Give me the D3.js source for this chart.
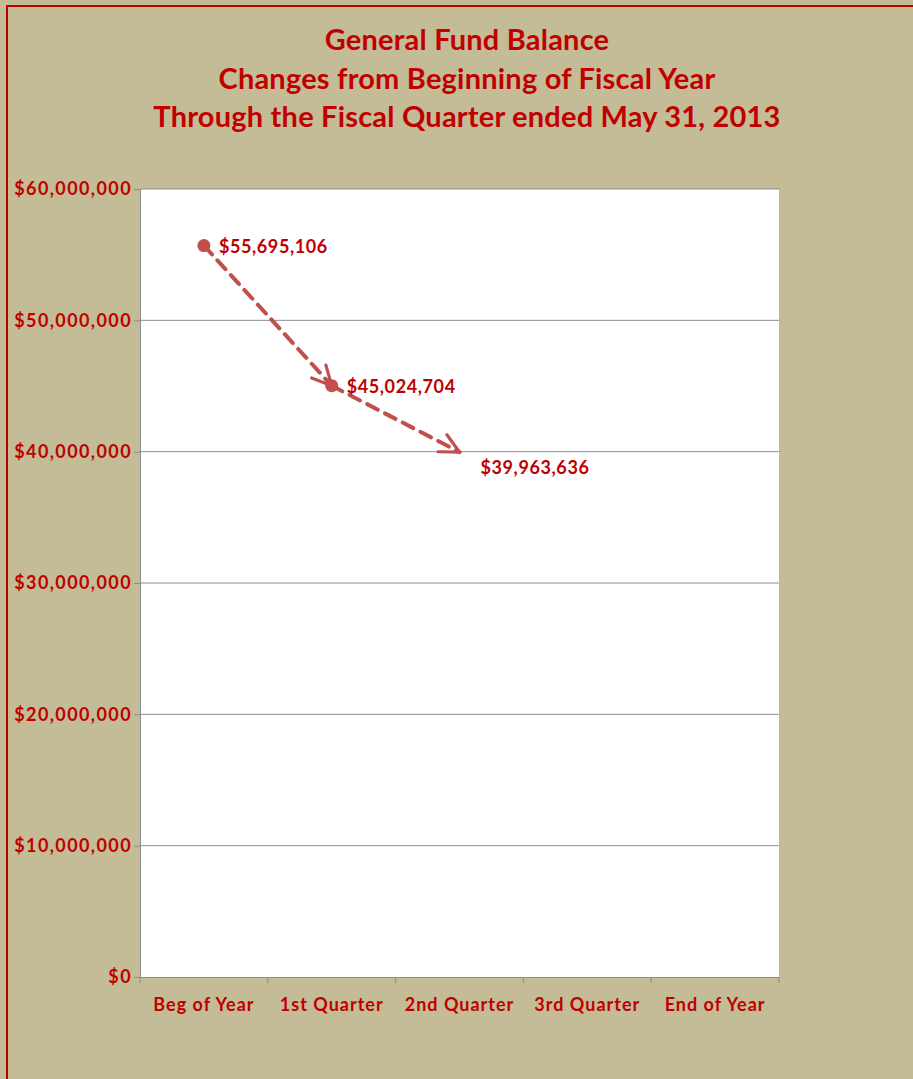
<!DOCTYPE html>
<html><head><meta charset="utf-8">
<script src="https://cdn.jsdelivr.net/npm/d3@7"></script>
<style>body{margin:0;background:#fff}svg{display:block}</style>
</head><body>
<script>
const categories = ["Beg of Year","1st Quarter","2nd Quarter","3rd Quarter","End of Year"];
const values = [55695106, 45024704, 39963636];
const yTicks = [0,10000000,20000000,30000000,40000000,50000000,60000000];
const titleLines = ["General Fund Balance","Changes from Beginning of Fiscal Year","Through the Fiscal Quarter ended May 31, 2013"];

const W=913,H=1079;
const red="#C00000", lineCol="#C0504D";
const font="Lato, 'Open Sans', sans-serif";
const svg=d3.select("body").append("svg").attr("width",W).attr("height",H);
svg.append("rect").attr("width",W).attr("height",H).attr("fill","#C4BC96");
svg.append("rect").attr("x",7).attr("y",6).attr("width",W+20).attr("height",H+20)
  .attr("fill","none").attr("stroke",red).attr("stroke-width",2);

const m={l:140,r:779,t:189,b:977};
const x=d3.scaleBand().domain(categories).range([m.l,m.r]);
const y=d3.scaleLinear().domain([0,60000000]).range([m.b,m.t]);

svg.append("rect").attr("x",m.l).attr("y",m.t).attr("width",m.r-m.l).attr("height",m.b-m.t).attr("fill","#fff");

// title
svg.append("g").selectAll("text").data(titleLines).join("text")
  .attr("x",467).attr("y",(d,i)=>50+i*38.5).attr("text-anchor","middle")
  .attr("font-family",font).attr("font-weight","bold").attr("font-size",29).attr("letter-spacing",0.2).attr("fill",red).text(d=>d);

// gridlines
svg.append("g").selectAll("line").data(yTicks.slice(1)).join("line")
  .attr("x1",m.l).attr("x2",m.r).attr("y1",d=>y(d)).attr("y2",d=>y(d))
  .attr("stroke","#8c8c8c").attr("stroke-width",1);

const fmt=d=>"$"+d3.format(",")(d);
// y axis
const ya=svg.append("g").attr("transform",`translate(${m.l},0)`)
  .call(d3.axisLeft(y).tickValues(yTicks).tickFormat(fmt).tickSize(6).tickPadding(2));
ya.select(".domain").attr("stroke","#8c8c8c");
ya.selectAll(".tick line").attr("stroke","#8c8c8c");
ya.selectAll("text").attr("font-family",font).attr("font-weight","bold").attr("font-size",18).attr("letter-spacing",1.4).attr("fill",red);

// x axis
const xa=svg.append("g").attr("transform",`translate(0,${m.b})`)
  .call(d3.axisBottom(x).tickSize(0).tickPadding(21));
xa.select(".domain").attr("stroke","#8c8c8c");
xa.selectAll("text").attr("font-family",font).attr("font-weight","bold").attr("font-size",18).attr("letter-spacing",1).attr("fill",red);
const bounds=categories.map(c=>x(c)).concat([m.r]);
xa.append("g").selectAll("line").data(bounds).join("line")
  .attr("x1",d=>d).attr("x2",d=>d).attr("y1",0).attr("y2",6).attr("stroke","#8c8c8c");

// arrow marker
const defs=svg.append("defs");
defs.append("marker").attr("id","arr").attr("viewBox","0 0 10 10").attr("refX",9).attr("refY",5)
  .attr("markerWidth",6).attr("markerHeight",6).attr("orient","auto").attr("markerUnits","strokeWidth")
  .append("path").attr("d","M1,1 L9,5 L1,9").attr("fill","none").attr("stroke",lineCol).attr("stroke-width",1.3).attr("stroke-linecap","round");

const pts=values.map((v,i)=>({x:x(categories[i])+x.bandwidth()/2,y:y(v),v}));
const segs=d3.pairs(pts);
svg.append("g").selectAll("line").data(segs).join("line")
  .attr("x1",d=>d[0].x).attr("y1",d=>d[0].y).attr("x2",d=>d[1].x).attr("y2",d=>d[1].y)
  .attr("stroke",lineCol).attr("stroke-width",4).attr("stroke-dasharray","12,8")
  .attr("stroke-linecap","round").attr("marker-end","url(#arr)");
svg.append("g").selectAll("circle").data(pts.slice(0,2)).join("circle")
  .attr("cx",d=>d.x).attr("cy",d=>d.y).attr("r",6.5).attr("fill",lineCol);

// labels
svg.append("g").selectAll("text").data(pts).join("text")
  .attr("x",(d,i)=>i<2?d.x+15:d.x+21).attr("y",(d,i)=>i<2?d.y+7:d.y+22)
  .attr("font-family",font).attr("font-weight","bold").attr("font-size",18).attr("letter-spacing",0.6).attr("fill",red)
  .text(d=>fmt(d.v));
</script>
</body></html>
